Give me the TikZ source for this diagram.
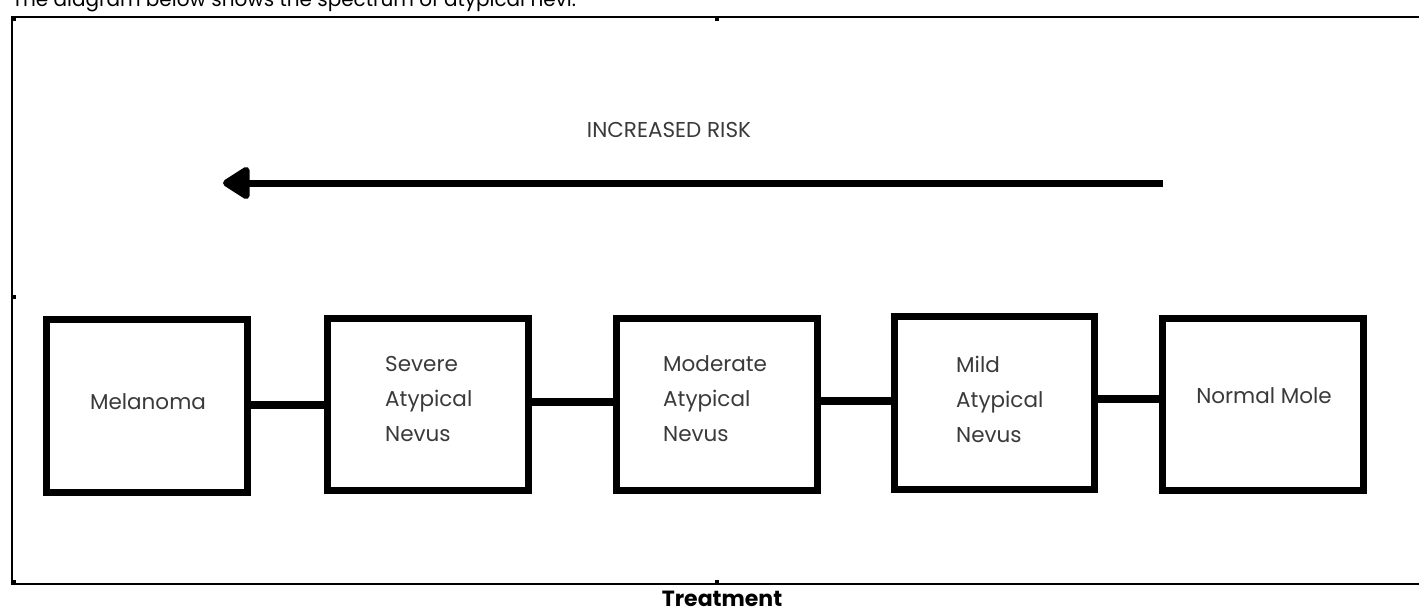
\documentclass[tikz,border=0pt]{standalone}
\usepackage{fontspec}
\setmainfont{Poppins}
\usetikzlibrary{arrows.meta}
\definecolor{txtgray}{HTML}{3A3A3A}
\tikzset{
  box/.style={draw=black, line width=7pt, minimum width=201pt, minimum height=173pt, inner sep=0pt, fill=white},
  conn/.style={draw=black, line width=7.5pt},
  lbl/.style={text=txtgray, font=\fontsize{21.5}{35}\selectfont, inner sep=0pt, align=left},
  frameline/.style={draw=black, line width=2pt},
  handle/.style={fill=black, draw=none, minimum size=4pt, inner sep=0pt}
}
\begin{document}
\begin{tikzpicture}[x=1pt,y=-1pt]
\useasboundingbox (0,0) rectangle (1419,613);
% clipped caption at top
\node[anchor=base west, inner sep=0pt, font=\fontsize{20}{24}\selectfont] (cap) at (12,6) {The diagram below shows the spectrum of atypical nevi.};
% frame
\coordinate (ftl) at (12,17);
\coordinate (ftr) at (1419,17);
\coordinate (fbl) at (12,584);
\coordinate (fbr) at (1419,584);
\draw[frameline] (ftr) -- (ftl) -- (fbl) -- (fbr);
\node[handle] (h1) at (717,19) {};
\node[handle] (h2) at (14,297) {};
\node[handle] (h3) at (717,582) {};
\node[handle] (h4) at (14,582) {};
\node[handle] (h5) at (14,19) {};
% increased risk
\node[text=txtgray, font=\fontsize{21.5}{24}\selectfont, inner sep=0pt] (risk) at (669,130) {INCREASED RISK};
\coordinate (arrS) at (1163,183);
\coordinate (arrE) at (223,183);
\draw[line width=7pt, -{Triangle[length=30pt,width=36pt,round]}] (arrS) -- (arrE);
% boxes
\node[box] (mel) at (147,406) {};
\node[box, minimum height=172pt] (sev) at (428,404.5) {};
\node[box, minimum height=172pt] (mod) at (717,404.5) {};
\node[box, minimum width=200pt] (mild) at (994.5,403) {};
\node[box, minimum height=172pt] (norm) at (1263,404.5) {};
% labels
\node[lbl] (tmel) at (148,402) {Melanoma};
\node[lbl, anchor=west] (tsev) at (385,399) {Severe\\Atypical\\Nevus};
\node[lbl, anchor=west] (tmod) at (663,399) {Moderate\\Atypical\\Nevus};
\node[lbl, anchor=west] (tmild) at (956,399) {Mild\\Atypical\\Nevus};
\node[lbl] (tnorm) at (1264,396) {Normal Mole};
% connectors
\draw[conn] (mel.east |- 0,405) -- (sev.west |- 0,405);
\draw[conn] (sev.east |- 0,402) -- ([xshift=3pt]mod.west |- 0,402);
\draw[conn] (mod.east |- 0,401) -- (mild.west |- 0,401);
\draw[conn] (mild.east |- 0,399) -- (norm.west |- 0,399);
% bottom title
\node[font=\fontsize{22}{24}\selectfont\bfseries, inner sep=0pt] (treat) at (722,599) {Treatment};
\end{tikzpicture}
\end{document}
